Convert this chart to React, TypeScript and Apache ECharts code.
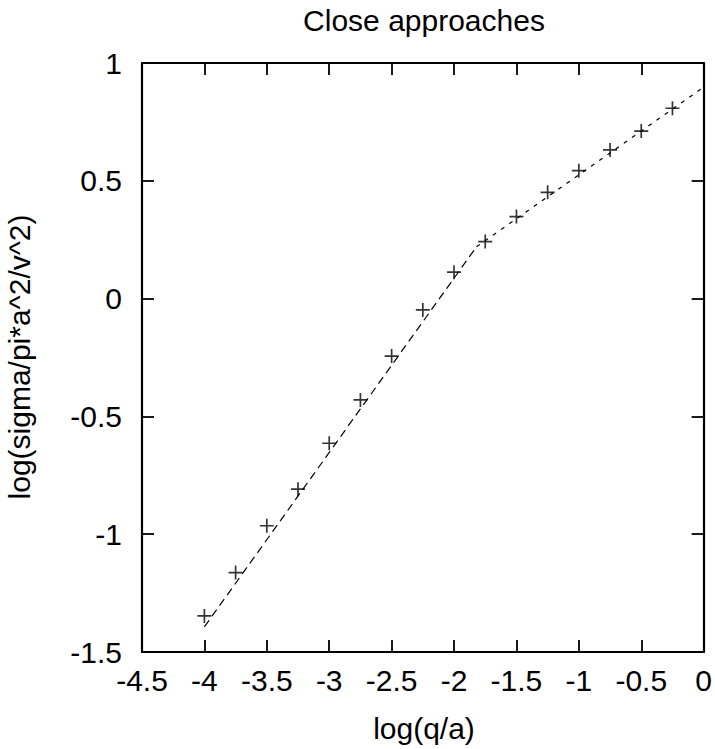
import React, { useEffect, useRef } from "react";
import * as echarts from "echarts";

// Measured points (log(q/a), log(sigma/pi*a^2/v^2))
const qValues = [-4, -3.75, -3.5, -3.25, -3, -2.75, -2.5, -2.25, -2, -1.75, -1.5, -1.25, -1, -0.75, -0.5, -0.25];
const sigmaValues = [-1.347, -1.163, -0.964, -0.809, -0.614, -0.43, -0.244, -0.048, 0.112, 0.242, 0.348, 0.451, 0.543, 0.631, 0.711, 0.808];

// Fitted lines
const steepFitX = [-4, -1.82];
const steepFitY = [-1.393, 0.22];
const shallowFitX = [-1.82, 0];
const shallowFitY = [0.22, 0.897];

const xTicks = { min: -4.5, max: 0, interval: 0.5 };
const yTicks = { min: -1.5, max: 1, interval: 0.5 };

const TITLE = "Close approaches";
const X_NAME = "log(q/a)";
const Y_NAME = "log(sigma/pi*a^2/v^2)";

const FONT = "Liberation Sans, Arial, Helvetica, sans-serif";
const FS = 30;

export default function App() {
  const ref = useRef<HTMLDivElement>(null);
  useEffect(() => {
    document.body.style.margin = "0";
    if (!ref.current) return;
    const chart = echarts.init(ref.current, undefined, { renderer: "svg" });
    const axisLine = { show: true, onZero: false, lineStyle: { color: "#000", width: 2.2 } };
    const axisTick = { show: true, inside: true, length: 12, lineStyle: { color: "#000", width: 1.8 } };
    const pts = qValues.map((q, i) => [q, sigmaValues[i]]);
    const steep = steepFitX.map((x, i) => [x, steepFitY[i]]);
    const shallow = shallowFitX.map((x, i) => [x, shallowFitY[i]]);
    chart.setOption({
      animation: false,
      backgroundColor: "#fff",
      grid: { left: 142, right: 9, top: 63, bottom: 97, containLabel: false },
      xAxis: [
        {
          type: "value",
          position: "bottom",
          ...xTicks,
          axisLine,
          axisTick,
          splitLine: { show: false },
          axisLabel: { show: true, margin: 13, color: "#000", fontSize: FS, fontFamily: FONT },
        },
        {
          type: "value",
          position: "top",
          ...xTicks,
          axisLine,
          axisTick,
          splitLine: { show: false },
          axisLabel: { show: false },
        },
      ],
      yAxis: [
        {
          type: "value",
          position: "left",
          ...yTicks,
          axisLine,
          axisTick,
          splitLine: { show: false },
          axisLabel: { show: true, margin: 20, color: "#000", fontSize: FS, fontFamily: FONT },
        },
        {
          type: "value",
          position: "right",
          ...yTicks,
          axisLine,
          axisTick,
          splitLine: { show: false },
          axisLabel: { show: false },
        },
      ],
      graphic: [
        {
          type: "text",
          x: 424,
          y: 20,
          style: { text: TITLE, fill: "#000", font: `${FS}px ${FONT}`, textAlign: "center", textVerticalAlign: "middle" },
        },
        {
          type: "text",
          x: 424,
          y: 728,
          style: { text: X_NAME, fill: "#000", font: `${FS}px ${FONT}`, textAlign: "center", textVerticalAlign: "middle" },
        },
        {
          type: "text",
          x: 19,
          y: 357,
          rotation: Math.PI / 2,
          style: { text: Y_NAME, fill: "#000", font: `${FS}px ${FONT}`, textAlign: "center", textVerticalAlign: "middle" },
        },
      ],
      series: [
        {
          type: "scatter",
          xAxisIndex: 0,
          yAxisIndex: 0,
          data: pts,
          symbol: "path://M5.85,0h1.6v13.3h-1.6z M0,5.85h13.3v1.6h-13.3z",
          symbolSize: 14,
          itemStyle: { color: "#000" },
          silent: true,
        },
        {
          type: "line",
          xAxisIndex: 0,
          yAxisIndex: 0,
          data: steep,
          showSymbol: false,
          symbol: "none",
          lineStyle: { color: "#000", width: 1.2, type: [8, 5] },
          silent: true,
        },
        {
          type: "line",
          xAxisIndex: 0,
          yAxisIndex: 0,
          data: shallow,
          showSymbol: false,
          symbol: "none",
          lineStyle: { color: "#000", width: 1.2, type: [4, 6] },
          silent: true,
        },
      ],
    });
    return () => chart.dispose();
  }, []);
  return <div ref={ref} style={{ width: 715, height: 749 }} />;
}
